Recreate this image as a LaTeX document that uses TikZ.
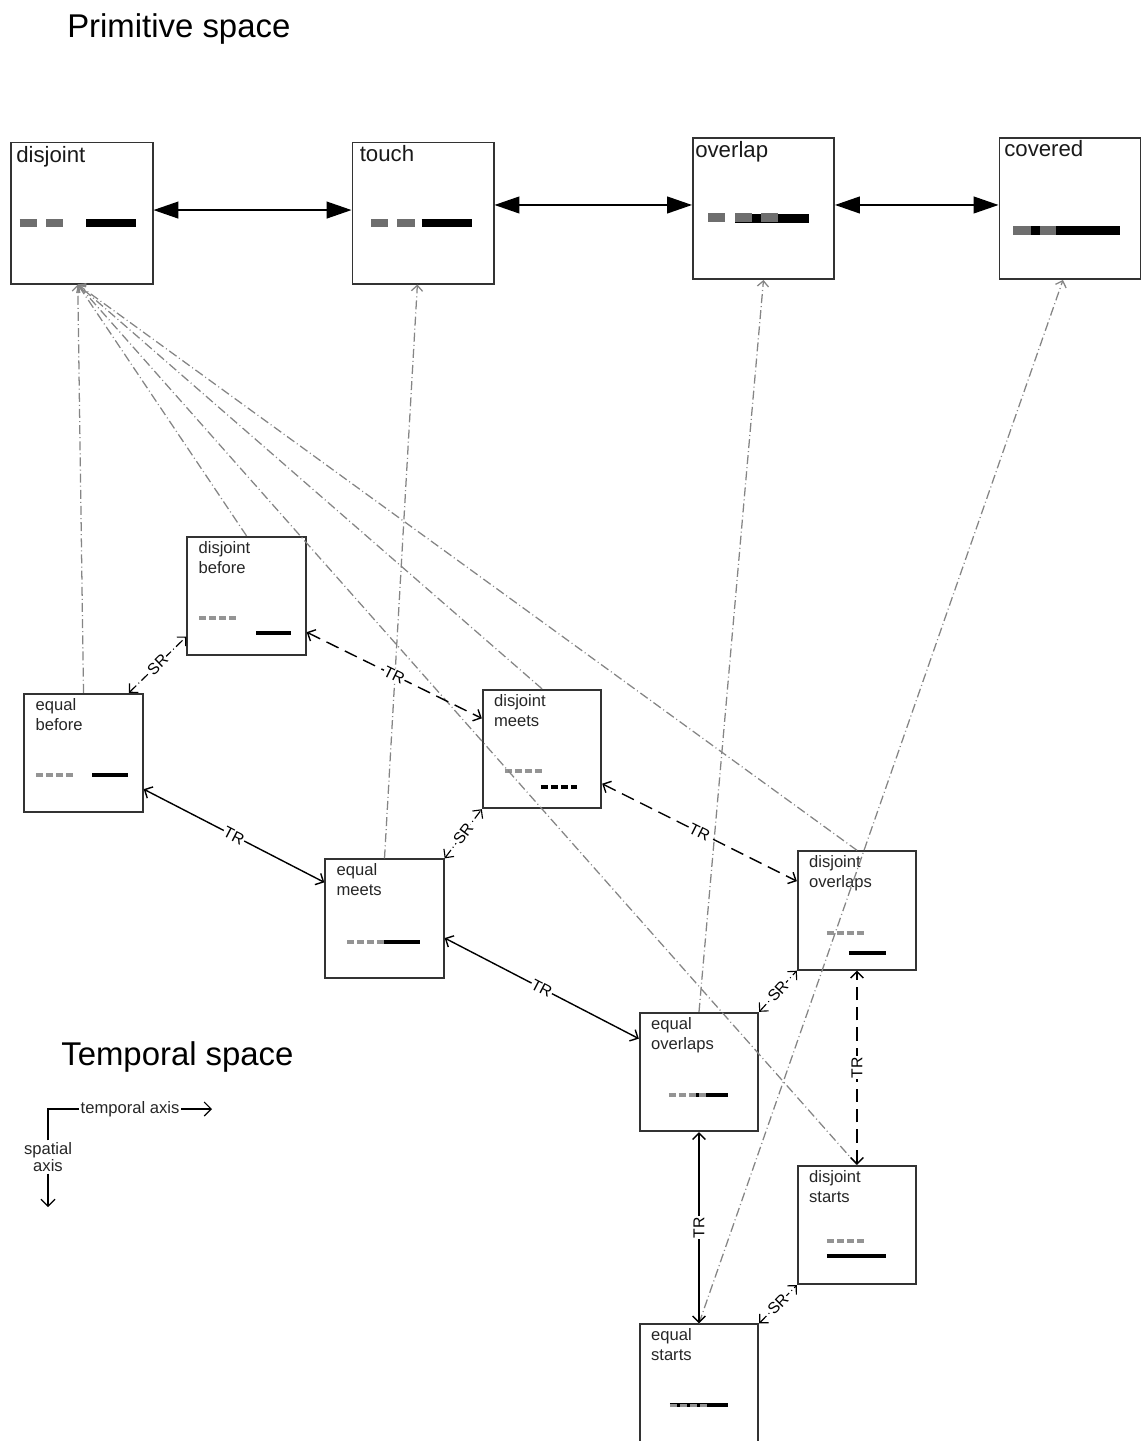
\documentclass[tikz,border=0pt]{standalone}
\usepackage{fontspec}
\setmainfont{Liberation Sans}
\usetikzlibrary{arrows.meta, calc, positioning}

\tikzset{
    primbox/.style={draw=black!80, line width=1.4pt, minimum width=3.525cm, minimum height=3.525cm, inner sep=0pt},
    relbox/.style={draw=black!80, line width=1.3pt, minimum width=2.9625cm, minimum height=2.9625cm, inner sep=0pt},
    primname/.style={anchor=base west, inner sep=0pt, font=\fontsize{15.8}{19}\selectfont, text=black!90},
    relname/.style={anchor=north west, inner sep=0pt, align=left, font=\fontsize{11.8}{14.2}\selectfont, text=black!85},
    spacename/.style={anchor=base west, inner sep=0pt, font=\fontsize{23.4}{28}\selectfont},
    axisname/.style={inner sep=1pt, align=center, font=\fontsize{11.8}{12.6}\selectfont, text=black!85},
    primlink/.style={line width=1pt, {Triangle[length=0.62cm,width=0.42cm]}-{Triangle[length=0.62cm,width=0.42cm]}},
    maplink/.style={draw=black!48, line width=0.9pt, dash pattern=on 6.4pt off 2.2pt on 0.7pt off 2.2pt, -{Straight Barb[length=4pt,width=8pt]}},
    trlink/.style={line width=1pt, {Straight Barb[length=4.5pt,width=9pt]}-{Straight Barb[length=4.5pt,width=9pt]}},
    trdash/.style={trlink, dash pattern=on 9.5pt off 5pt},
    srlink/.style={line width=0.8pt, dash pattern=on 6.4pt off 2.2pt on 0.7pt off 2.2pt, {Straight Barb[length=4.5pt,width=9pt]}-{Straight Barb[length=4.5pt,width=9pt]}},
    linkname/.style={fill=white, inner sep=0.6pt, sloped, font=\fontsize{11.2}{13}\selectfont},
    gbar/.style={line width=5.8pt, draw=black!57},
    kbar/.style={line width=5.8pt, draw=black},
    gdash/.style={line width=2.4pt, draw=black!42, dash pattern=on 5pt off 2.1pt},
    kline/.style={line width=2.8pt, draw=black},
    kdash/.style={kline, dash pattern=on 5pt off 2.1pt},
    axislink/.style={line width=0.8pt, -{Straight Barb[length=5pt,width=10pt]}}
}

\begin{document}
\begin{tikzpicture}[x=0.025cm, y=-0.025cm]
    \useasboundingbox (0,0) rectangle (1141,1441);

    \node[spacename] (primtitle) at (67,37) {Primitive space};
    \node[spacename] (temptitle) at (61,1065) {Temporal space};

    \node[primbox] (pdis) at (82,213) {};
    \node[primbox] (ptou) at (423,213) {};
    \node[primbox] (povl) at (763.5,208.5) {};
    \node[primbox] (pcov) at (1070,208.5) {};

    \node[primname] (pdisname) at ([shift={(5.5,20.5)}]pdis.north west) {disjoint};
    \node[primname] (ptouname) at ([shift={(8,20)}]ptou.north west) {touch};
    \node[primname] (povlname) at ([shift={(3,20.5)}]povl.north west) {overlap};
    \node[primname] (pcovname) at ([shift={(5.5,19.5)}]pcov.north west) {covered};

    \draw[gbar] ([shift={(9.2,81.5)}]pdis.north west) -- ++(17.5,0);
    \draw[gbar] ([shift={(35.8,81.5)}]pdis.north west) -- ++(17,0);
    \draw[kbar] ([shift={(75.8,81.5)}]pdis.north west) -- ++(50,0);
    \draw[gbar] ([shift={(19.8,81.5)}]ptou.north west) -- ++(17,0);
    \draw[gbar] ([shift={(45.8,81.5)}]ptou.north west) -- ++(17.4,0);
    \draw[kbar] ([shift={(70.2,81.5)}]ptou.north west) -- ++(50,0);
    \draw[gbar] ([shift={(16,80.5)}]povl.north west) -- ++(17,0);
    \draw[kbar] ([shift={(43,81.5)}]povl.north west) -- ++(74,0);
    \draw[gbar] ([shift={(43,80.5)}]povl.north west) -- ++(17,0);
    \draw[gbar] ([shift={(69,80.5)}]povl.north west) -- ++(17,0);
    \draw[kbar] ([shift={(14.5,93.5)}]pcov.north west) -- ++(107,0);
    \draw[gbar] ([shift={(14.5,93.5)}]pcov.north west) -- ++(18,0);
    \draw[gbar] ([shift={(41.5,93.5)}]pcov.north west) -- ++(16,0);

    \node[relbox] (dbef) at (246.5,596) {};
    \node[relbox] (ebef) at (83.5,753) {};
    \node[relbox] (dmee) at (542,749) {};
    \node[relbox] (emee) at (384.5,918.5) {};
    \node[relbox] (dovl) at (857,910.5) {};
    \node[relbox] (eovl) at (699,1072) {};
    \node[relbox] (dsta) at (857,1225) {};
    \node[relbox] (esta) at (699,1383.5) {};

    \node[relname] (dbefname) at ([shift={(12,5)}]dbef.north west) {disjoint\\before};
    \node[relname] (ebefname) at ([shift={(12,5)}]ebef.north west) {equal\\before};
    \node[relname] (dmeename) at ([shift={(12,5)}]dmee.north west) {disjoint\\meets};
    \node[relname] (emeename) at ([shift={(12,5)}]emee.north west) {equal\\meets};
    \node[relname] (dovlname) at ([shift={(12,5)}]dovl.north west) {disjoint\\overlaps};
    \node[relname] (eovlname) at ([shift={(12,5)}]eovl.north west) {equal\\overlaps};
    \node[relname] (dstaname) at ([shift={(12,5)}]dsta.north west) {disjoint\\starts};
    \node[relname] (estaname) at ([shift={(12,5)}]esta.north west) {equal\\starts};

    \draw[gdash] ([shift={(13,82)}]dbef.north west) -- ++(38,0);
    \draw[kline] ([shift={(70,97)}]dbef.north west) -- ++(35,0);
    \draw[gdash] ([shift={(13,82)}]ebef.north west) -- ++(38,0);
    \draw[kline] ([shift={(69,82)}]ebef.north west) -- ++(36,0);
    \draw[gdash] ([shift={(23,82)}]dmee.north west) -- ++(37,0);
    \draw[kdash] ([shift={(59,98)}]dmee.north west) -- ++(36,0);
    \draw[kline] ([shift={(60,83.5)}]emee.north west) -- ++(36,0);
    \draw[gdash] ([shift={(23,83.5)}]emee.north west) -- ++(37,0);
    \draw[gdash] ([shift={(30,82.5)}]dovl.north west) -- ++(37,0);
    \draw[kline] ([shift={(52,102.5)}]dovl.north west) -- ++(37,0);
    \draw[kline] ([shift={(54,83)}]eovl.north west) -- ++(35,0);
    \draw[gdash] ([shift={(30,83)}]eovl.north west) -- ++(37,0);
    \draw[gdash] ([shift={(30,76)}]dsta.north west) -- ++(37,0);
    \draw[kline] ([shift={(30,91)}]dsta.north west) -- ++(59,0);
    \draw[kline] ([shift={(31,82)}]esta.north west) -- ++(58,0);
    \draw[gdash] ([shift={(31,82)}]esta.north west) -- ++(37,0);

    \draw[primlink] ([yshift=2.1pt]pdis.east) -- ([yshift=2.1pt]ptou.west);
    \draw[primlink] ([yshift=2.5pt]ptou.east |- povl.west) -- ([yshift=2.5pt]povl.west);
    \draw[primlink] ([yshift=2.5pt]povl.east) -- ([yshift=2.5pt]pcov.west);

    \foreach \src in {ebef, dbef, dmee, dovl, dsta}
        \draw[maplink] (\src.north) -- ([xshift=-3pt]pdis.south);
    \draw[maplink] (emee.north) -- ([xshift=-4pt]ptou.south);
    \draw[maplink] (eovl.north) -- (povl.south);
    \draw[maplink] (esta.north) -- ([xshift=-5pt]pcov.south);

    \draw[trlink] (ebef.-31) -- node[linkname] {TR} (emee.149);
    \draw[trlink] (emee.-18) -- node[linkname] {TR} (eovl.151.5);
    \draw[trlink] (esta.north) -- node[linkname] {TR} (eovl.south);
    \draw[trdash] (dbef.-31) -- node[linkname] {TR} (dmee.153);
    \draw[trdash] (dmee.-30) -- node[linkname] {TR} (dovl.154);
    \draw[trdash] (dsta.north) -- node[linkname] {TR} (dovl.south);

    \draw[srlink] (ebef.53) -- node[linkname] {SR} (dbef.214);
    \draw[srlink] (emee.north east) -- node[linkname] {SR} (dmee.south west);
    \draw[srlink] (eovl.north east) -- node[linkname] {SR} (dovl.south west);
    \draw[srlink] (esta.north east) -- node[linkname] {SR} (dsta.south west);

    \coordinate (axcorner) at (48,1109);
    \coordinate (taxend) at (212,1109);
    \coordinate (saxend) at (48,1207);
    \node[axisname] (taxis) at (130,1109) {temporal axis};
    \node[axisname] (saxis) at (48,1157) {spatial\\axis};
    \draw[line width=0.8pt] (saxis.north) -- (axcorner) -- (taxis.west);
    \draw[axislink] (taxis.east) -- (taxend);
    \draw[axislink] (saxis.south) -- (saxend);
\end{tikzpicture}
\end{document}
